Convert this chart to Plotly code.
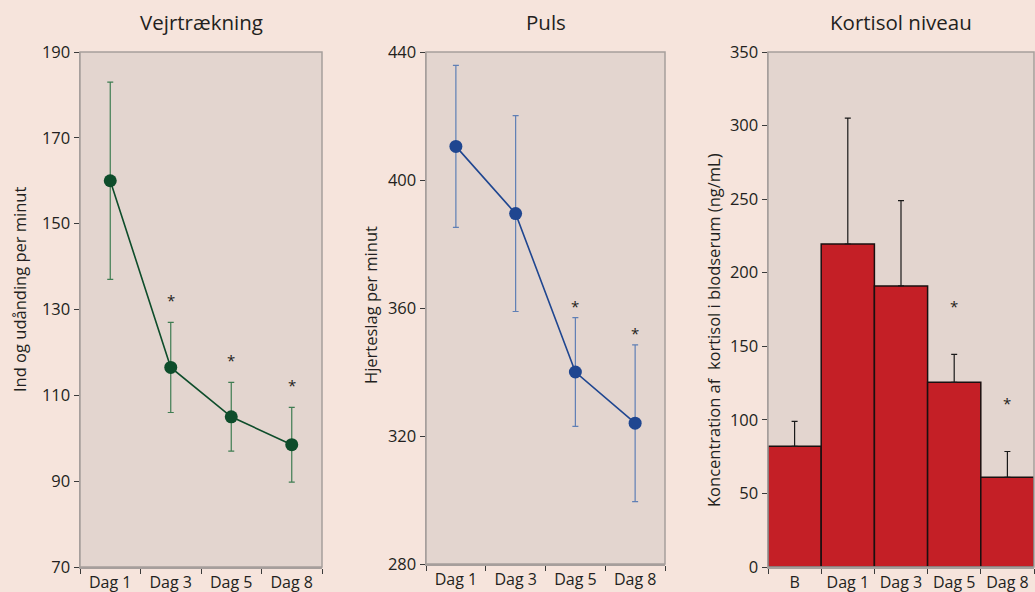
import plotly.graph_objects as go

# ---------------- data ----------------
days = ["Dag 1", "Dag 3", "Dag 5", "Dag 8"]

breath_mean = [160, 116.5, 105, 98.5]
breath_err = [23, 10.5, 8, 8.7]
breath_sig = [False, True, True, True]

pulse_mean = [410.5, 389.5, 340, 324]
pulse_err = [25.3, 30.6, 17, 24.5]
pulse_sig = [False, False, True, True]

cort_cats = ["B", "Dag 1", "Dag 3", "Dag 5", "Dag 8"]
cort_mean = [82, 219.5, 191, 125.5, 61]
cort_err = [17, 85.5, 58, 19, 17.5]
cort_sig = [False, False, False, True, True]

titles = ["Vejrtrækning", "Puls", "Kortisol niveau"]
ytitles = ["Ind og udånding per minut", "Hjerteslag per minut",
           "Koncentration af  kortisol i blodserum (ng/mL)"]

# ---------------- style ----------------
W, H = 1035, 592
FONT = "Open Sans"
TXT = "#231f20"
PAGE_BG = "#f6e4dc"
PLOT_BG = "#e3d5cf"
FRAME = "#a69f9c"
GREEN = "#0e4d2b"
GREEN_ERR = "#3f7d52"
BLUE = "#1f4690"
BLUE_ERR = "#5f7fb5"
RED = "#c41f26"

def px_x(p):
    return p / W

def px_y(p):
    return 1 - p / H

fig = go.Figure()

fig.add_trace(go.Scatter(
    x=days, y=breath_mean, mode="lines+markers",
    line=dict(color=GREEN, width=1.6),
    marker=dict(color=GREEN, size=13),
    error_y=dict(type="data", array=breath_err, color=GREEN_ERR, thickness=1.2, width=3),
    xaxis="x", yaxis="y", showlegend=False))

fig.add_trace(go.Scatter(
    x=days, y=pulse_mean, mode="lines+markers",
    line=dict(color=BLUE, width=1.6),
    marker=dict(color=BLUE, size=13),
    error_y=dict(type="data", array=pulse_err, color=BLUE_ERR, thickness=1.2, width=3),
    xaxis="x2", yaxis="y2", showlegend=False))

fig.add_trace(go.Bar(
    x=cort_cats, y=cort_mean,
    marker=dict(color=RED, line=dict(color="#1a1010", width=1.5)),
    error_y=dict(type="data", array=cort_err, arrayminus=[0] * len(cort_err),
                 symmetric=False, color="#1a1a1a", thickness=1.2, width=3),
    xaxis="x3", yaxis="y3", showlegend=False))

# axes
domains_x = [(80, 322), (426, 665), (768, 1034)]
domains_y = [(52, 567), (52, 564), (52, 567)]
yranges = [(70, 190, 20), (280, 440, 40), (0, 350, 50)]
ncats = [len(days), len(days), len(cort_cats)]

layout = {}
for i in range(3):
    sx = "" if i == 0 else str(i + 1)
    x0, x1 = domains_x[i]
    ytop, ybot = domains_y[i]
    lo, hi, dt = yranges[i]
    layout["xaxis" + sx] = dict(
        domain=[px_x(x0), px_x(x1)], anchor="y" + sx, type="category",
        range=[-0.5, ncats[i] - 0.5], tickson="boundaries", tickangle=0,
        ticks="outside", ticklen=5, tickcolor="#3a3a3a", tickwidth=1,
        showline=True, linecolor=FRAME, linewidth=1.5, showgrid=False,
        tickfont=dict(family=FONT, size=16, color=TXT), automargin=False,
        fixedrange=True)
    layout["yaxis" + sx] = dict(
        domain=[px_y(ybot), px_y(ytop)], anchor="x" + sx,
        range=[lo, hi], dtick=dt, tick0=lo,
        ticks="outside", ticklen=5, tickcolor="#3a3a3a", tickwidth=1,
        showline=True, linecolor=FRAME, linewidth=1.5, showgrid=False,
        zeroline=False, fixedrange=True,
        tickfont=dict(family=FONT, size=16.5, color=TXT), automargin=False)

shapes = []
annotations = []
ytitle_pos = [(19, 290), (370, 305), (713, 330)]
for i in range(3):
    sx = "" if i == 0 else str(i + 1)
    shapes.append(dict(type="rect", xref="x" + sx + " domain", yref="y" + sx + " domain",
                       x0=0, x1=1, y0=0, y1=1, line=dict(color=FRAME, width=1.5),
                       fillcolor="rgba(0,0,0,0)", layer="above"))
    annotations.append(dict(text=titles[i], xref="x" + sx + " domain", yref="paper",
                            x=0.5, y=px_y(22), showarrow=False,
                            font=dict(family=FONT, size=20.5, color=TXT),
                            xanchor="center", yanchor="middle"))
    annotations.append(dict(text=ytitles[i], xref="paper", yref="paper",
                            x=px_x(ytitle_pos[i][0]), y=px_y(ytitle_pos[i][1]),
                            textangle=-90, showarrow=False,
                            font=dict(family=FONT, size=16.5, color=TXT),
                            xanchor="center", yanchor="middle"))

# significance stars
star_sets = [
    (days, breath_mean, breath_err, breath_sig, "", 22),
    (days, pulse_mean, pulse_err, pulse_sig, "2", 12),
    (cort_cats, cort_mean, cort_err, cort_sig, "3", 48),
]
for cats, m, e, sig, sx, shift in star_sets:
    for c, mv, ev, s in zip(cats, m, e, sig):
        if s:
            annotations.append(dict(text="*", x=c, y=mv + ev, xref="x" + sx, yref="y" + sx,
                                    showarrow=False, yshift=shift,
                                    font=dict(family=FONT, size=15, color=TXT),
                                    xanchor="center", yanchor="middle"))

fig.update_layout(
    width=W, height=H,
    margin=dict(l=0, r=0, t=0, b=0),
    paper_bgcolor=PAGE_BG, plot_bgcolor=PLOT_BG,
    bargap=0, showlegend=False, hovermode=False,
    shapes=shapes, annotations=annotations,
    font=dict(family=FONT, color=TXT),
    **layout)

fig.write_html(
    "out.html",
    config={"displayModeBar": False, "staticPlot": True},
    post_script="document.body.style.margin='0';document.body.style.overflow='hidden';"
                "document.body.style.background='" + PAGE_BG + "';")
